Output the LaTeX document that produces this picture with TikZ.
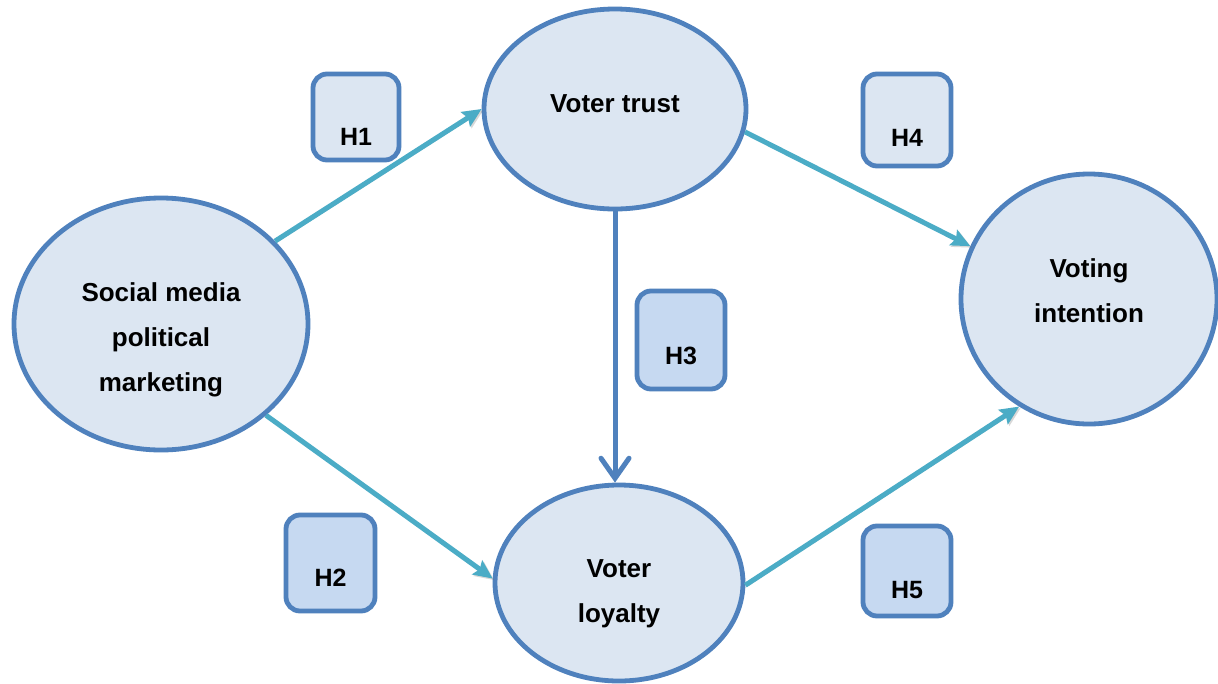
\documentclass[tikz,border=0pt]{standalone}
\usepackage{fontspec}
\setmainfont{Liberation Sans}
\usetikzlibrary{arrows.meta,shapes.geometric}
\definecolor{edgeblue}{HTML}{4F81BD}
\definecolor{filllight}{HTML}{DCE6F2}
\definecolor{filldark}{HTML}{C6D9F1}
\definecolor{arrowteal}{HTML}{4BACC6}
\begin{document}
\begin{tikzpicture}[x=1pt,y=-1pt,
  bub/.style={ellipse, draw=edgeblue, fill=filllight, line width=4.8pt, inner sep=0pt},
  hbox/.style={rectangle, rounded corners=14pt, draw=edgeblue, line width=4.8pt, inner sep=0pt},
  lbl/.style={font=\fontsize{26}{45}\selectfont\bfseries, align=center, text=black, inner sep=0pt},
  hlbl/.style={font=\fontsize{25}{30}\selectfont\bfseries, text=black, inner sep=0pt},
  hyp/.style={-{Stealth[length=19pt,width=17pt,inset=3pt]}, draw=arrowteal, fill=arrowteal, line width=5pt,
    preaction={draw=black!60, fill=black!60, opacity=0.25, transform canvas={shift={(1.5pt,-1.5pt)}}}},
  vert/.style={-{Straight Barb[length=20pt,width=28pt,line cap=round]}, draw=edgeblue, line width=5pt},
]
\fill[white] (0,0) rectangle (1218,683);
\useasboundingbox (0,0) rectangle (1218,683);

\node[bub, minimum width=294pt, minimum height=252pt,
  label={[lbl,yshift=-16pt]center:{Social media\\political\\marketing}}] (social) at (161,324) {};
\node[bub, minimum width=262pt, minimum height=200pt,
  label={[lbl,yshift=5pt]center:{Voter trust}}] (trust) at (615,109) {};
\node[bub, minimum width=256pt, minimum height=250pt,
  label={[lbl,yshift=8pt]center:{Voting\\intention}}] (intention) at (1089,299) {};
\node[bub, minimum width=248pt, minimum height=196pt,
  label={[lbl,yshift=-11pt]center:{Voter\\loyalty}}] (loyalty) at (619,583) {};

\node[hbox, fill=filllight, minimum width=86pt, minimum height=86pt,
  label={[hlbl,yshift=-20pt]center:H1}] (h1) at (356,117) {};
\node[hbox, fill=filllight, minimum width=88pt, minimum height=92pt,
  label={[hlbl,yshift=-18pt]center:H4}] (h4) at (907,120) {};
\node[hbox, fill=filldark, minimum width=88pt, minimum height=98pt,
  label={[hlbl,yshift=-16pt]center:H3}] (h3) at (681,340) {};
\node[hbox, fill=filldark, minimum width=89pt, minimum height=96pt,
  label={[hlbl,yshift=-15pt]center:H2}] (h2) at (330.5,563) {};
\node[hbox, fill=filldark, minimum width=88pt, minimum height=90pt,
  label={[hlbl,yshift=-19pt]center:H5}] (h5) at (907,571) {};

\draw[hyp] (social.36) -- (trust.180);
\draw[hyp] (trust.-10) -- (intention.156);
\draw[hyp] (social.-41) -- (loyalty.178);
\draw[hyp] (loyalty.-1) -- (intention.237);
\draw[vert] (trust.south) -- (trust.south |- loyalty.north);
\end{tikzpicture}
\end{document}
